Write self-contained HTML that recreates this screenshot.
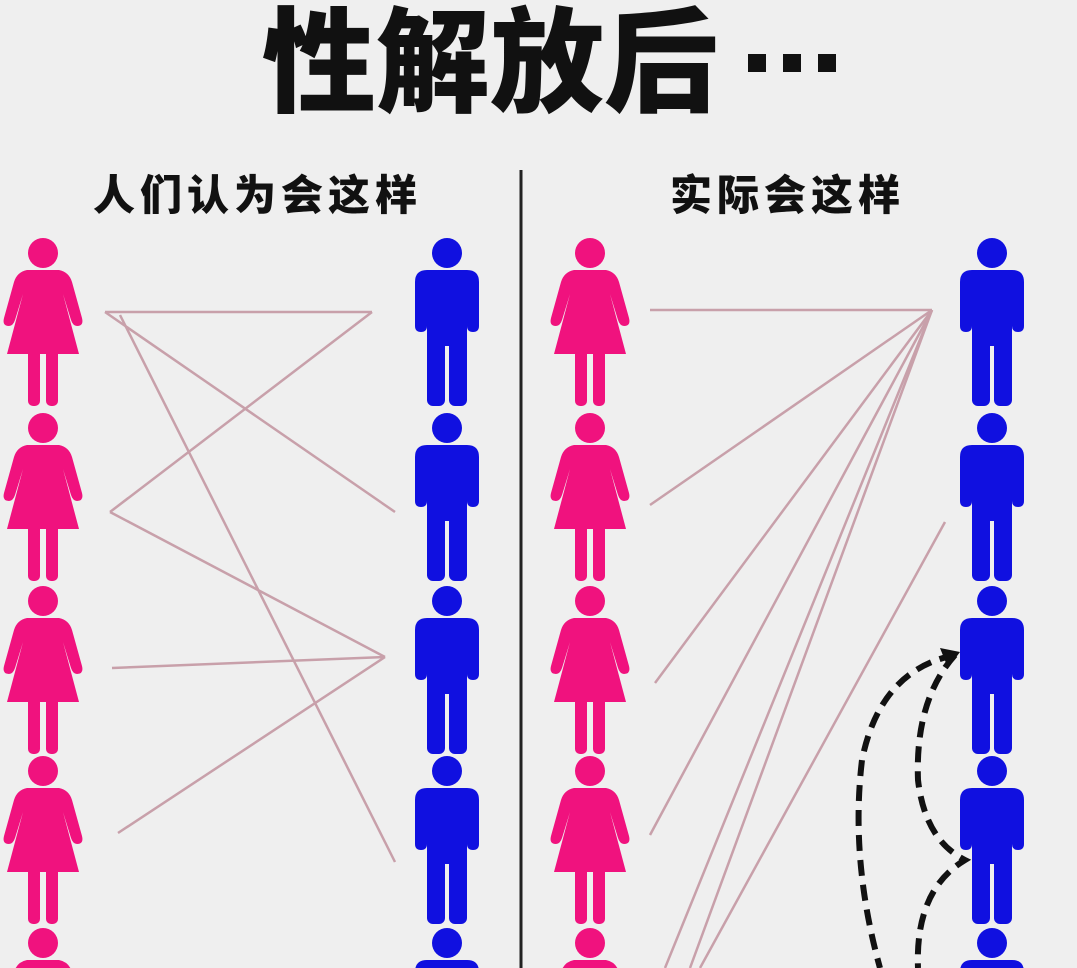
<!DOCTYPE html>
<html><head><meta charset="utf-8"><style>
html,body{margin:0;padding:0;background:#efefef;overflow:hidden;}
body{width:1077px;height:968px;overflow:hidden;position:relative;font-family:"Liberation Sans","Noto Sans CJK SC",sans-serif;}
.t{position:absolute;font-weight:900;color:#111;white-space:nowrap;}
</style></head><body>
<div class="t" style="left:262px;top:0px;font-size:114px;line-height:130px;">性解放后</div>
<div style="position:absolute;left:748px;top:54px;width:88px;height:18px;">
<div style="position:absolute;left:0;top:0;width:18px;height:18px;background:#111"></div>
<div style="position:absolute;left:35px;top:0;width:18px;height:18px;background:#111"></div>
<div style="position:absolute;left:70px;top:0;width:18px;height:18px;background:#111"></div>
</div>
<div class="t" style="left:93px;top:170px;font-size:42px;line-height:52px;letter-spacing:5px;">人们认为会这样</div>
<div class="t" style="left:670px;top:170px;font-size:42px;line-height:52px;letter-spacing:5px;">实际会这样</div>
<svg width="1077" height="968" style="position:absolute;left:0;top:0">
<defs>
<g id="f" fill="#f0127e">
<circle cx="0" cy="17" r="15"/>
<path d="M-16,34 L16,34 Q26,36 29,46 L39,82 Q41,90 34,90 Q30,90 28,84 L20,58 L36,118 L-36,118 L-20,58 L-28,84 Q-30,90 -34,90 Q-41,90 -39,82 L-29,46 Q-26,36 -16,34Z"/>
<rect x="-15" y="110" width="12" height="60" rx="5"/>
<rect x="3" y="110" width="12" height="60" rx="5"/>
</g>
<g id="m" fill="#1010e0">
<circle cx="0" cy="17" r="15"/>
<path d="M-20,34 L20,34 Q32,34 32,46 L32,90 Q32,96 26,96 Q20,96 20,90 L20,60 L20,110 L-20,110 L-20,60 L-20,90 Q-20,96 -26,96 Q-32,96 -32,90 L-32,46 Q-32,34 -20,34Z"/>
<rect x="-20" y="100" width="18" height="70" rx="6"/>
<rect x="2" y="100" width="18" height="70" rx="6"/>
</g>
</defs>
<g>
<use href="#f" x="43" y="236"/><use href="#f" x="43" y="411"/><use href="#f" x="43" y="584"/><use href="#f" x="43" y="754"/><use href="#f" x="43" y="926"/>
<use href="#m" x="447" y="236"/><use href="#m" x="447" y="411"/><use href="#m" x="447" y="584"/><use href="#m" x="447" y="754"/><use href="#m" x="447" y="926"/>
<use href="#f" x="590" y="236"/><use href="#f" x="590" y="411"/><use href="#f" x="590" y="584"/><use href="#f" x="590" y="754"/><use href="#f" x="590" y="926"/>
<use href="#m" x="992" y="236"/><use href="#m" x="992" y="411"/><use href="#m" x="992" y="584"/><use href="#m" x="992" y="754"/><use href="#m" x="992" y="926"/>
</g>
<line x1="521" y1="170" x2="521" y2="968" stroke="#222" stroke-width="3"/>
<g stroke="#c8a0aa" stroke-width="2.5" fill="none">
<line x1="105" y1="312" x2="372" y2="312"/>
<line x1="105" y1="312" x2="395" y2="512"/>
<line x1="372" y1="312" x2="110" y2="512"/>
<line x1="110" y1="512" x2="385" y2="657"/>
<line x1="112" y1="668" x2="385" y2="657"/>
<line x1="385" y1="657" x2="118" y2="833"/>
<line x1="120" y1="315" x2="395" y2="862"/>
<line x1="650" y1="310" x2="932" y2="310"/>
<line x1="650" y1="505" x2="932" y2="310"/>
<line x1="655" y1="683" x2="932" y2="310"/>
<line x1="650" y1="835" x2="932" y2="310"/>
<line x1="665" y1="968" x2="932" y2="310"/>
<line x1="690" y1="968" x2="932" y2="310"/>
<line x1="945" y1="522" x2="700" y2="968"/>
</g>
<g stroke="#111" stroke-width="6" fill="none" stroke-dasharray="16,9">
<path d="M955,655 Q880,670 862,760 Q850,860 880,968"/>
<path d="M955,655 Q915,700 918,780 Q925,840 965,860 Q915,890 918,968"/>
</g>
<path d="M960,652 L940,648 L948,668Z" fill="#111"/>
</svg>
</body></html>
